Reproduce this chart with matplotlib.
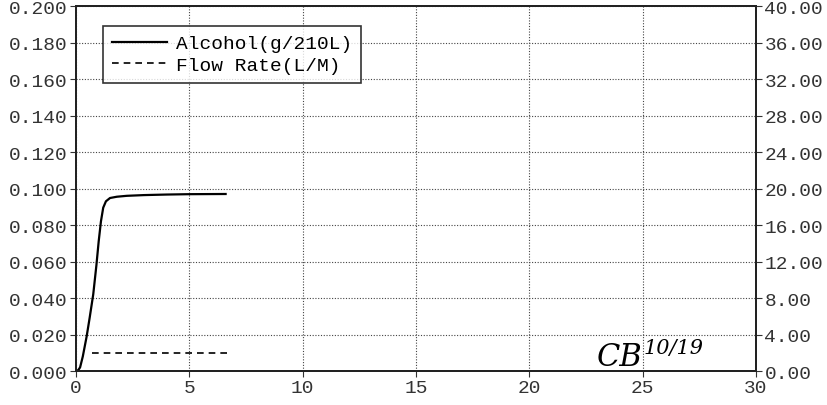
import matplotlib
matplotlib.use("Agg")
import matplotlib.pyplot as plt
from matplotlib.ticker import FormatStrFormatter, MultipleLocator

plt.rcParams["font.family"] = ["Liberation Mono", "DejaVu Sans Mono"]

# breath alcohol curve
alc_t = [0.0, 0.1, 0.18, 0.3, 0.47, 0.6, 0.76, 0.9, 1.0, 1.1, 1.2, 1.32, 1.5, 1.8, 2.24, 3.0, 4.0, 5.0, 6.6]
alc_v = [0.0, 0.0005, 0.002, 0.008, 0.019, 0.029, 0.042, 0.058, 0.071, 0.082, 0.0895, 0.0930,
         0.0948, 0.0955, 0.0960, 0.0964, 0.0967, 0.0969, 0.0970]

# flow rate
flow_t = [0.69, 6.65]
flow_v = [1.95, 1.95]

fig = plt.figure(figsize=(8.28, 4.06), dpi=100)
ax = fig.add_axes([0.0918, 0.0837, 0.8213, 0.899])
ax2 = ax.twinx()

ax.plot(alc_t, alc_v, color="black", lw=1.6, label="Alcohol(g/210L)")
ax2.plot(flow_t, flow_v, color="black", lw=1.2, ls=(0, (4, 3)), label="Flow Rate(L/M)")

ax.set_xlim(0, 30)
ax.set_ylim(0, 0.2)
ax2.set_ylim(0, 40)
ax.xaxis.set_major_locator(MultipleLocator(5))
ax.yaxis.set_major_locator(MultipleLocator(0.02))
ax2.yaxis.set_major_locator(MultipleLocator(4))
ax.yaxis.set_major_formatter(FormatStrFormatter("%.3f"))
ax2.yaxis.set_major_formatter(FormatStrFormatter("%.2f"))
ax.grid(True, color="#444444", ls=(0, (1, 1.5)), lw=0.8)

for a in (ax, ax2):
    a.tick_params(labelsize=14, colors="#333333", length=4, width=0.8, pad=2)
    for s in a.spines.values():
        s.set_linewidth(1.4)
        s.set_color("#222222")

h1, l1 = ax.get_legend_handles_labels()
h2, l2 = ax2.get_legend_handles_labels()
leg = ax2.legend(h1 + h2, l1 + l2, loc="upper left", bbox_to_anchor=(0.026, 0.972),
                 fontsize=14, frameon=True, fancybox=False, edgecolor="black",
                 handlelength=2.8, borderpad=0.45, labelspacing=0.2, handletextpad=0.5)
leg.get_frame().set_linewidth(1.2)

# handwritten initials near the bottom right
ax.text(25.0, 0.008, "CB", fontsize=22, fontstyle="italic", family="DejaVu Serif",
        ha="right", va="center")
ax.text(25.05, 0.013, "10/19", fontsize=15, fontstyle="italic", family="DejaVu Serif",
        ha="left", va="center")

fig.savefig("out.png", dpi=100)
